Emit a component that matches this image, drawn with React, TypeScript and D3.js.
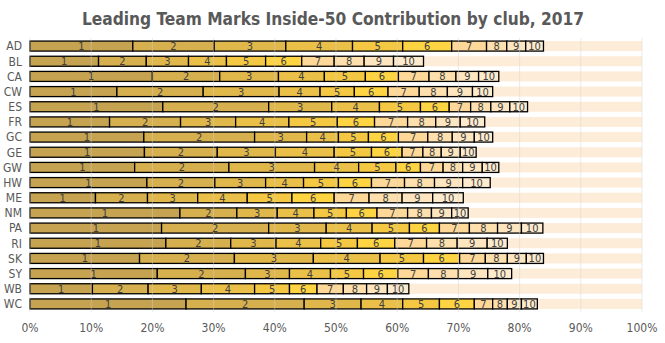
import React from "react";
import * as d3 from "d3";

const clubs = ["AD","BL","CA","CW","ES","FR","GC","GE","GW","HW","ME","NM","PA","RI","SK","SY","WB","WC"];
const ranks = ["1","2","3","4","5","6","7","8","9","10"];

// cumulative end positions (percent) of ranks 1..10 per club
const cumAD = [16.8,30.1,41.8,52.7,60.9,68.9,74.6,77.9,81.0,83.9];
const cumBL = [11.2,19.0,25.9,32.1,38.5,44.4,49.7,54.6,59.4,64.3];
const cumCA = [20.0,31.0,40.6,48.1,54.8,60.2,65.2,69.6,73.3,76.6];
const cumCW = [14.2,28.3,40.7,47.4,53.0,58.5,63.6,68.2,72.3,75.6];
const cumES = [21.7,39.0,49.3,57.1,63.8,68.5,72.0,75.3,78.4,81.3];
const cumFR = [13.0,24.6,33.6,42.3,50.2,56.3,61.7,66.3,70.3,74.3];
const cumGC = [18.6,36.7,45.2,50.4,55.3,60.2,65.0,69.0,72.6,75.6];
const cumGE = [18.7,30.6,40.1,49.7,55.8,60.8,64.2,67.2,70.3,72.9];
const cumGW = [17.1,32.5,46.5,53.7,59.8,63.8,67.5,70.7,73.9,76.6];
const cumHW = [19.1,30.2,38.5,44.7,50.4,55.8,61.2,66.1,70.7,75.2];
const cumME = [10.7,19.2,27.4,35.5,42.8,49.7,55.4,60.8,65.8,70.8];
const cumNM = [24.5,33.8,40.4,46.4,51.7,56.7,61.7,65.6,68.9,71.6];
const cumPA = [21.5,39.0,48.4,55.9,62.0,66.9,71.8,76.4,80.3,83.8];
const cumRI = [22.2,32.8,40.2,47.5,53.5,59.6,64.8,69.8,74.7,78.0];
const cumSK = [17.9,33.4,46.3,57.2,64.3,70.2,74.4,78.0,81.1,83.9];
const cumSY = [20.8,35.2,42.4,49.1,54.5,60.1,65.1,70.0,74.8,78.7];
const cumWB = [10.2,19.3,28.0,36.7,42.4,46.9,51.2,55.0,58.4,61.9];
const cumWC = [25.5,44.8,54.1,60.9,66.9,72.6,75.6,78.0,80.3,82.9];

const cumulative = [cumAD,cumBL,cumCA,cumCW,cumES,cumFR,cumGC,cumGE,cumGW,cumHW,cumME,cumNM,cumPA,cumRI,cumSK,cumSY,cumWB,cumWC];
const xTicks = [0,10,20,30,40,50,60,70,80,90,100];

const colors = ["#c5a350","#d6b04e","#e0b74b","#ebc049","#f4c843","#fed443","#fdd898","#fde0ad","#fde6bf","#fdebce"];
const restColor = "#fdecd8";

export default function App() {
  const W = 665, H = 343;
  const x = d3.scaleLinear().domain([0, 100]).range([30, 642]);
  const y = d3.scaleBand<string>().domain(clubs).range([38.5, 311.5]).paddingInner(0.34).paddingOuter(0.17);
  const bh = y.bandwidth();
  const font = "'DejaVu Sans Condensed', 'DejaVu Sans', sans-serif";

  return (
    <svg width={W} height={H} style={{ position: "absolute", left: 0, top: 0, background: "#fff" }}>
      <text x={333} y={25} textAnchor="middle" fontFamily={font} fontWeight="bold" fontSize={17.2} fill="#595959">
        Leading Team Marks Inside-50 Contribution by club, 2017
      </text>
      {clubs.map((c, i) => {
        const cum = cumulative[i];
        const yy = y(c)!;
        const last = cum[cum.length - 1];
        return (
          <g key={c}>
            <rect x={x(last)} y={yy} width={x(100) - x(last)} height={bh} fill={restColor} />
            {cum.map((e, j) => {
              const s = j === 0 ? 0 : cum[j - 1];
              return (
                <rect key={j} x={x(s)} y={yy} width={x(e) - x(s)} height={bh} fill={colors[j]} stroke="#000" strokeWidth={1.3} />
              );
            })}
          </g>
        );
      })}
      {xTicks.map((t) => (
        <line key={t} x1={x(t)} x2={x(t)} y1={38} y2={312} stroke="#d0d0d0" strokeOpacity={0.45} strokeWidth={1} />
      ))}
      {clubs.map((c, i) => {
        const cum = cumulative[i];
        const yy = y(c)! + bh / 2;
        return (
          <g key={c + "l"}>
            {cum.map((e, j) => {
              const s = j === 0 ? 0 : cum[j - 1];
              return (
                <text key={j} x={x((s + e) / 2)} y={yy} dy="0.36em" textAnchor="middle" fontFamily={font} fontSize={11} fill="#404040">
                  {ranks[j]}
                </text>
              );
            })}
            <text x={22} y={yy} dy="0.36em" textAnchor="end" fontFamily={font} fontSize={12} fill="#595959">{c}</text>
          </g>
        );
      })}
      {xTicks.map((t) => (
        <text key={t + "t"} x={x(t)} y={328} dy="0.36em" textAnchor="middle" fontFamily={font} fontSize={12} fill="#595959">
          {t + "%"}
        </text>
      ))}
    </svg>
  );
}
